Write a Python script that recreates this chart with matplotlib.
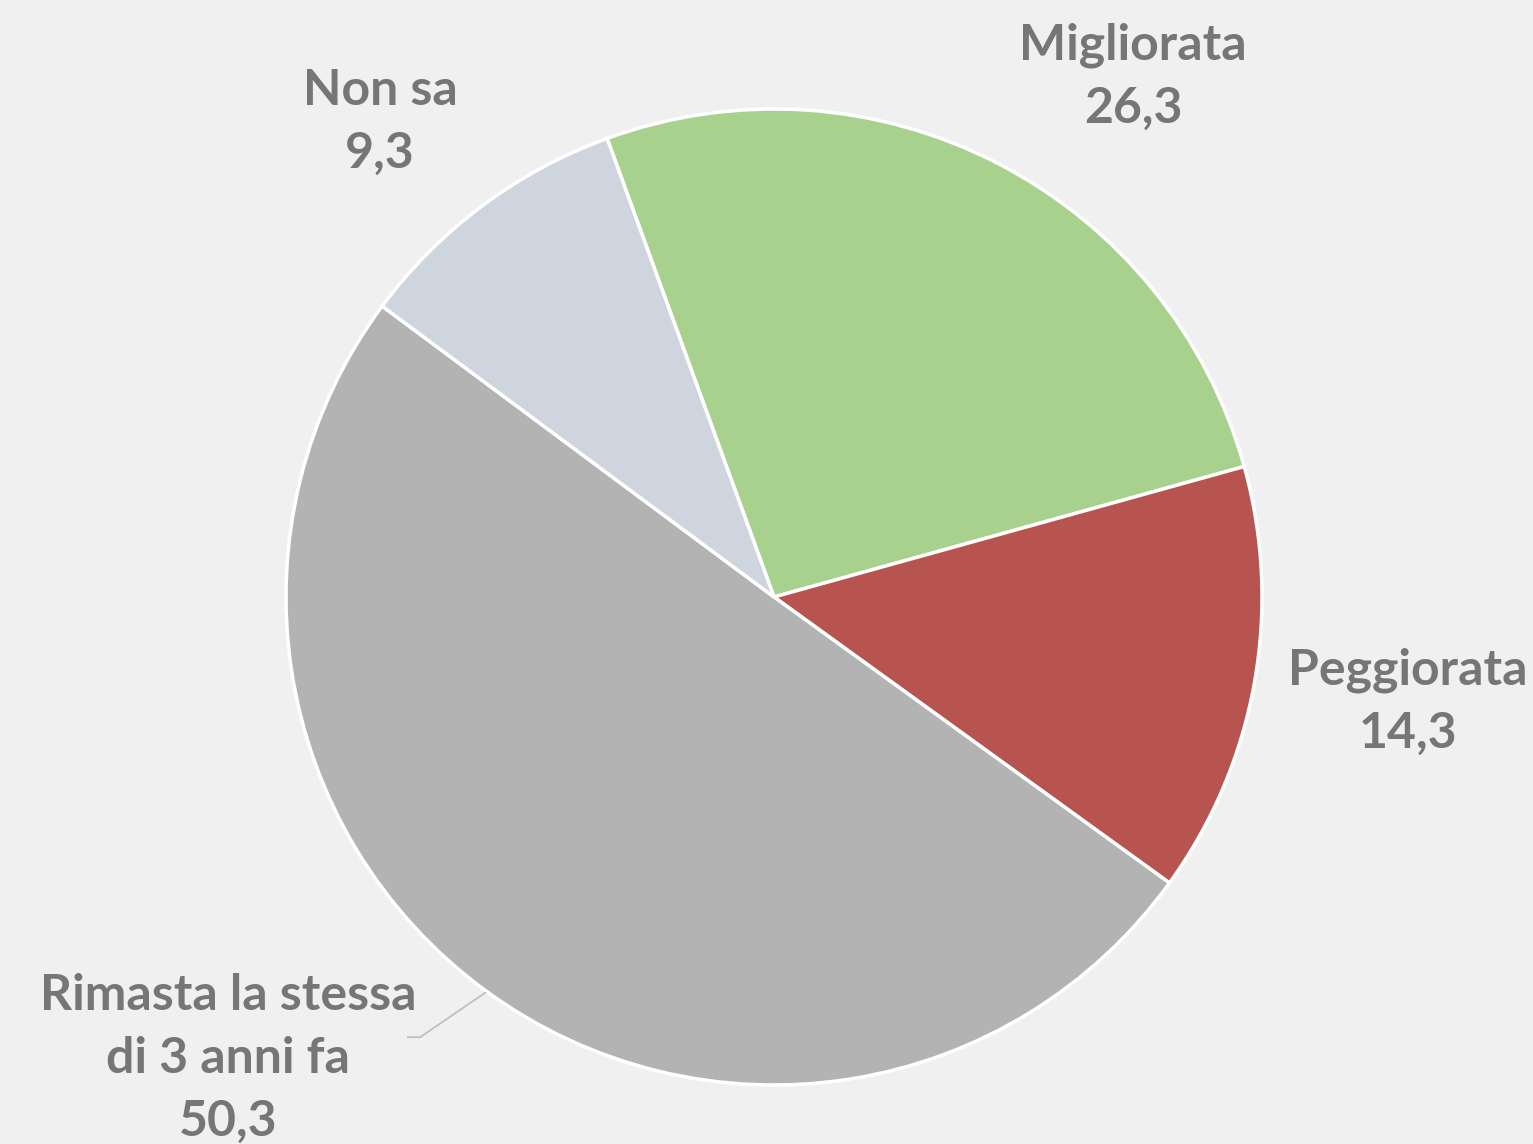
import matplotlib
matplotlib.use("Agg")
import matplotlib.pyplot as plt

# data
categories = ["Migliorata", "Peggiorata", "Rimasta la stessa\ndi 3 anni fa", "Non sa"]
values = [26.3, 14.3, 50.3, 9.3]
value_labels = ["26,3", "14,3", "50,3", "9,3"]
colors = ["#A9D18E", "#B85450", "#B3B3B3", "#CFD5DF"]

BG = "#F0F0F0"
TXT = "#767676"

fig = plt.figure(figsize=(15.33, 11.44), dpi=100, facecolor=BG)
ax = fig.add_axes([0, 0, 1, 1])
ax.set_facecolor(BG)

ax.pie(values, colors=colors, startangle=110, counterclock=False, radius=1.0,
       wedgeprops=dict(edgecolor="white", linewidth=2.5))

# centre at pixel (774, 597), radius 488 px
R = 488.0
ax.set_xlim(-774 / R, (1533 - 774) / R)
ax.set_ylim(-(1144 - 597) / R, 597 / R)
ax.set_aspect("equal")
ax.axis("off")

# label positions (radius units)
label_pos = [(0.736, 1.066), (1.299, -0.215), (-1.119, -0.945), (-0.807, 0.973)]

for cat, vl, (x, y) in zip(categories, value_labels, label_pos):
    ax.text(x, y, cat + "\n" + vl, ha="center", va="center", color=TXT,
            fontsize=36, fontweight="bold", family="Lato", linespacing=1.48)

# leader line for the big slice
ax.plot([-0.592, -0.725, -0.750], [-0.811, -0.902, -0.902], color="#BFBFBF", lw=1.3)

fig.savefig("out.png", dpi=100, facecolor=BG)
